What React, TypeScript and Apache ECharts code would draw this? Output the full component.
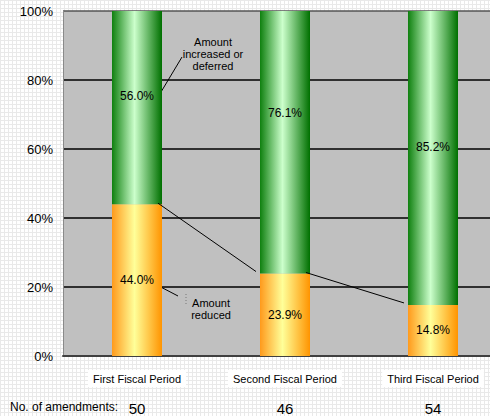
import React, { useEffect, useRef } from "react";
import * as echarts from "echarts";

// Share of amendments per fiscal period (percent)
const periods = ["First Fiscal Period", "Second Fiscal Period", "Third Fiscal Period"];
const reduced = [44.0, 23.9, 14.8];
const increased = [56.0, 76.1, 85.2];
const amendments = [50, 46, 54];
const yTicks = [0, 20, 40, 60, 80, 100];

const FONT = "'Liberation Sans', Arial, sans-serif";
const BAR_W = 50;
// vertical nudges of the upper-segment value labels
const increasedLabelShift = [-12, -29, -11];

const hGrad = (edgeL: string, mid: string, edgeR: string, midPos: number) =>
  new echarts.graphic.LinearGradient(0, 0, 1, 0, [
    { offset: 0, color: edgeL },
    { offset: midPos, color: mid },
    { offset: 1, color: edgeR },
  ]);

export default function App() {
  const ref = useRef<HTMLDivElement>(null);

  useEffect(() => {
    if (!ref.current) return;
    const chart = echarts.init(ref.current, null, { renderer: "svg" });

    const orange = hGrad("#ff9a1c", "#ffff99", "#ff9400", 0.45);
    const green = hGrad("#0f800f", "#ccffcc", "#007000", 0.45);

    const connectors = reduced.slice(0, -1).map((v, i) => [i, v, reduced[i + 1]]);

    chart.setOption({
      animation: false,
      backgroundColor: "transparent",
      textStyle: { fontFamily: FONT },
      grid: {
        left: 63,
        top: 11,
        width: 444,
        height: 345,
        outerBoundsMode: "none",
        containLabel: false,
        show: true,
        backgroundColor: "#c0c0c0",
        borderWidth: 0,
      },
      xAxis: [
        {
          type: "category",
          data: periods,
          axisTick: { show: false },
          axisLine: { lineStyle: { color: "#404040", width: 2 } },
          axisLabel: {
            color: "#000",
            fontSize: 11,
            fontFamily: FONT,
            margin: 14,
            backgroundColor: "#ffffff",
            padding: [3, 5],
            interval: 0,
          },
        },
        {
          type: "category",
          position: "bottom",
          data: amendments.map(String),
          axisTick: { show: false },
          axisLine: { show: false },
          splitLine: { show: false },
          axisLabel: { color: "#000", fontSize: 15, fontFamily: FONT, margin: 45, interval: 0 },
        },
      ],
      yAxis: {
        type: "value",
        min: yTicks[0],
        max: yTicks[yTicks.length - 1],
        interval: 20,
        axisLine: { show: true, lineStyle: { color: "#8a8a8a", width: 1 } },
        axisTick: { show: false },
        axisLabel: { formatter: "{value}%", color: "#000", fontSize: 13, fontFamily: FONT, margin: 10 },
        splitLine: {
          lineStyle: { color: ["#000", "#000", "#000", "#000", "#000", "#555"], width: 1.6 },
        },
      },
      series: [
        {
          name: "Amount reduced",
          type: "bar",
          stack: "share",
          barWidth: BAR_W,
          data: reduced,
          itemStyle: { color: orange },
          label: {
            show: true,
            position: "inside",
            formatter: (p: any) => p.value.toFixed(1) + "%",
            color: "#000",
            fontSize: 12,
            fontFamily: FONT,
          },
        },
        {
          name: "Amount increased or deferred",
          type: "bar",
          stack: "share",
          barWidth: BAR_W,
          data: increased.map((v, i) => ({
            value: v,
            label: { offset: [0, increasedLabelShift[i]] },
          })),
          itemStyle: { color: green },
          label: {
            show: true,
            position: "inside",
            formatter: (p: any) => p.value.toFixed(1) + "%",
            color: "#000",
            fontSize: 12,
            fontFamily: FONT,
          },
        },
        {
          type: "custom",
          coordinateSystem: "cartesian2d",
          z: 5,
          silent: true,
          data: connectors,
          renderItem: (_params: any, api: any) => {
            const i = api.value(0);
            const a = api.coord([i, api.value(1)]);
            const b = api.coord([i + 1, api.value(2)]);
            return {
              type: "line",
              shape: { x1: a[0] + BAR_W / 2 - 4, y1: a[1] - 1, x2: b[0] - BAR_W / 2 - 4, y2: b[1] - 2 },
              style: { stroke: "#000", lineWidth: 1 },
            };
          },
        },
      ],
      graphic: [
        {
          type: "text",
          x: 213,
          y: 36,
          style: {
            text: "Amount\nincreased or\ndeferred",
            align: "center",
            fill: "#000",
            font: `11px ${FONT}`,
            lineHeight: 12,
          },
        },
        {
          type: "line",
          shape: { x1: 182, y1: 57, x2: 161, y2: 92 },
          style: { stroke: "#000", lineWidth: 1 },
        },
        {
          type: "text",
          x: 211,
          y: 297,
          style: {
            text: "Amount\nreduced",
            align: "center",
            fill: "#000",
            font: `11px ${FONT}`,
            lineHeight: 12,
          },
        },
        {
          type: "line",
          shape: { x1: 155, y1: 284, x2: 178, y2: 296 },
          style: { stroke: "#000", lineWidth: 1 },
        },
        {
          type: "line",
          shape: { x1: 186, y1: 294, x2: 186, y2: 306 },
          style: { stroke: "#777", lineWidth: 1, lineDash: [1, 2] },
        },
        {
          type: "text",
          x: 10,
          y: 401,
          style: { text: "No. of amendments:", fill: "#000", font: `12px ${FONT}` },
        },
      ],
    });

    return () => chart.dispose();
  }, []);

  return (
    <div
      style={{
        position: "fixed",
        left: 0,
        top: 0,
        width: 490,
        height: 416,
        backgroundColor: "#ffffff",
        backgroundImage:
          "linear-gradient(#e9e9e9 1px, transparent 1px), linear-gradient(90deg, #e9e9e9 1px, transparent 1px)",
        backgroundSize: "4px 4px",
      }}
    >
      <div ref={ref} style={{ width: 490, height: 416 }} />
    </div>
  );
}
